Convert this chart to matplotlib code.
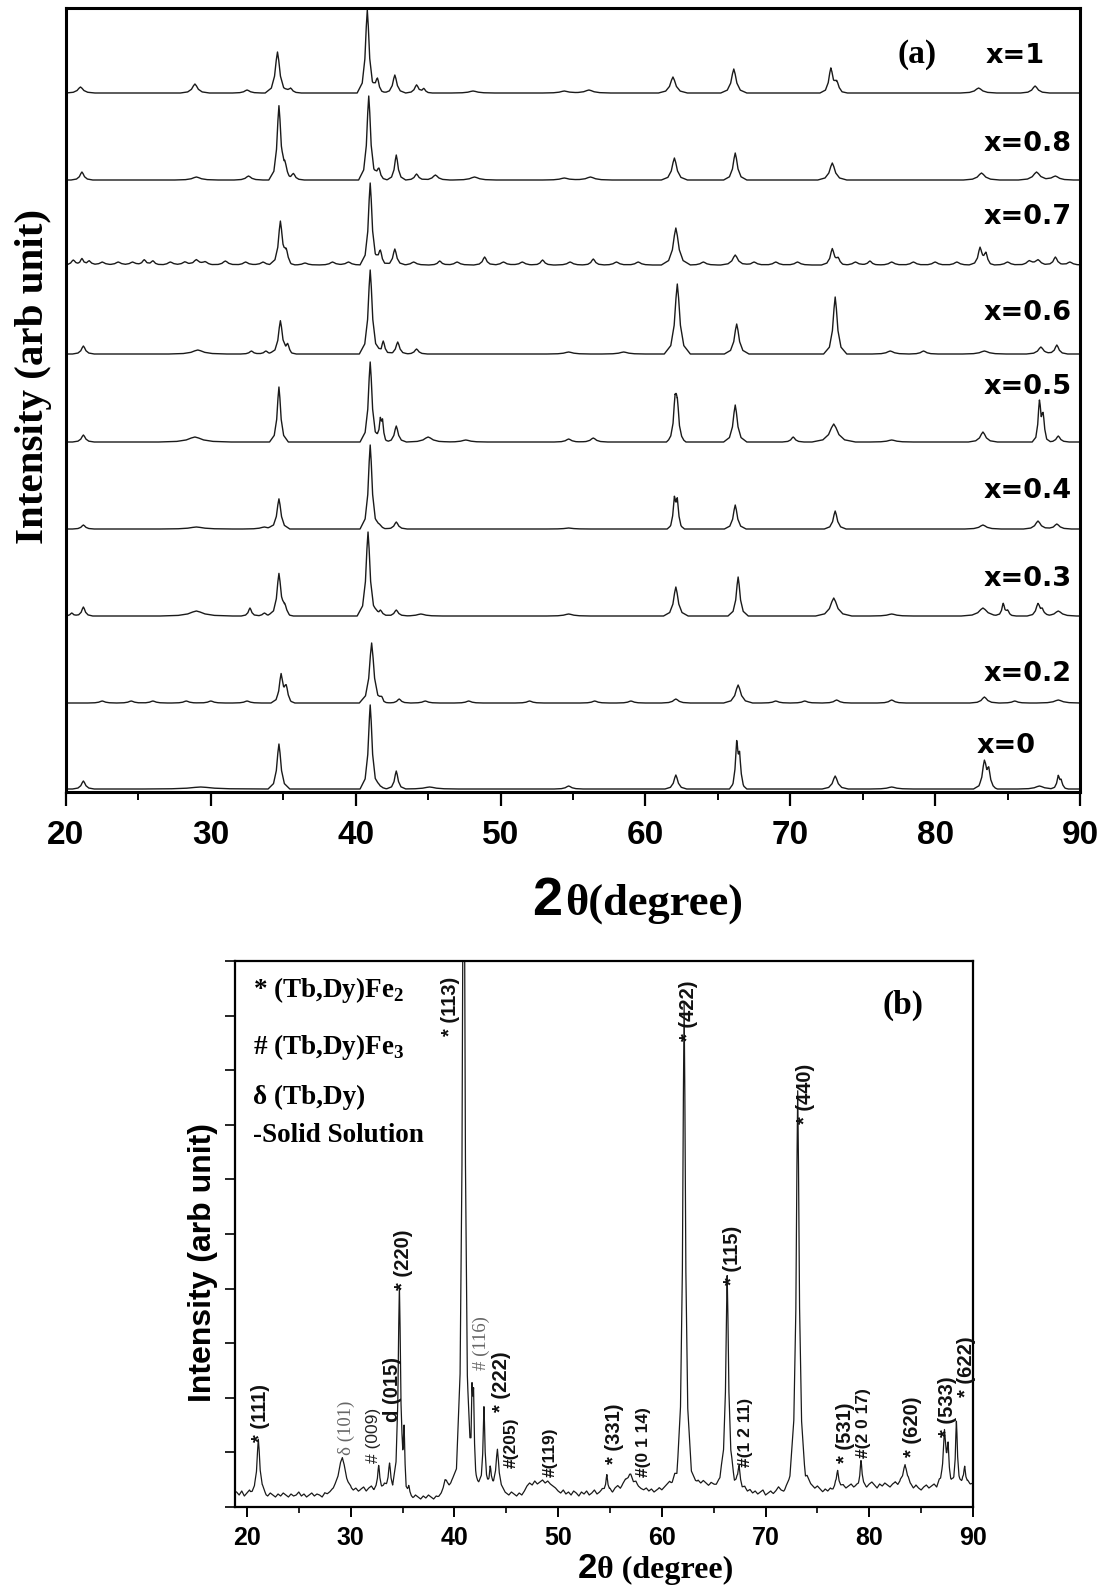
import numpy as np
import matplotlib
matplotlib.use("Agg")
import matplotlib.pyplot as plt

plt.rcParams['mathtext.fontset'] = 'custom'
plt.rcParams['mathtext.rm'] = 'Liberation Serif:bold'
plt.rcParams['mathtext.bf'] = 'Liberation Serif:bold'

# ---------------- data: panel (a) ----------------
# composition labels and vertical offsets of each pattern (axis units)
comp_labels = ["x=1", "x=0.8", "x=0.7", "x=0.6", "x=0.5", "x=0.4", "x=0.3", "x=0.2", "x=0"]
comp_offsets = [699, 612, 527, 438, 350, 263, 176, 89, 3]
# peaks: (2theta, height, half-width)
peaks_x1 = [(21.0, 6, .2), (28.9, 9, .2), (32.5, 3, .2), (34.6, 41, .17), (35.5, 5, .15),
            (40.8, 83, .14), (41.5, 15, .12), (42.7, 18, .15), (44.2, 8, .15), (44.7, 4, .12),
            (48.1, 2, .3), (54.4, 2, .3), (56.1, 3, .3), (61.9, 16, .2), (66.1, 24, .18),
            (72.8, 24, .15), (73.2, 10, .15), (83.0, 5, .25), (86.9, 7, .2)]
peaks_x08 = [(21.1, 8, .15), (29.0, 3, .3), (32.6, 4, .2), (34.7, 73, .14), (35.1, 12, .15),
             (35.7, 6, .15), (40.9, 84, .14), (41.6, 12, .12), (42.8, 25, .13), (44.2, 6, .15),
             (45.5, 5, .2), (48.2, 3, .3), (54.4, 2, .3), (56.2, 3, .3), (62.0, 22, .18),
             (66.2, 27, .16), (72.9, 17, .2), (83.2, 7, .25), (87.0, 8, .25), (88.3, 4, .25)]
peaks_x07 = [(20.5, 5, .15), (21.1, 6, .12), (21.6, 4, .15), (22.5, 3, .2), (23.6, 3, .2),
             (24.6, 3, .2), (25.4, 5, .15), (26.0, 4, .15), (27.2, 3, .2), (28.2, 3, .2),
             (29.0, 5, .2), (29.6, 3, .2), (31.0, 4, .2), (32.4, 3, .2), (33.6, 3, .2),
             (34.8, 43, .15), (35.2, 12, .12), (36.5, 2, .2), (38.4, 3, .2), (39.5, 3, .2),
             (41.0, 82, .14), (41.7, 15, .12), (42.7, 16, .14), (44.0, 3, .2), (45.8, 4, .15),
             (47.0, 3, .2), (48.9, 8, .15), (50.2, 3, .2), (51.5, 3, .2), (52.9, 5, .15),
             (54.8, 3, .2), (56.4, 6, .15), (58.0, 3, .2), (59.5, 3, .2), (62.1, 37, .2),
             (64.0, 3, .2), (66.2, 10, .2), (67.5, 3, .2), (69.0, 3, .2), (70.5, 3, .2),
             (72.9, 16, .15), (73.3, 6, .12), (74.5, 3, .2), (75.5, 4, .15), (77.0, 3, .2),
             (78.5, 3, .2), (80.0, 3, .2), (81.5, 3, .2), (83.1, 17, .15), (83.5, 11, .12),
             (85.0, 3, .2), (86.5, 4, .2), (87.1, 5, .2), (88.3, 8, .15), (89.3, 3, .2)]
peaks_x06 = [(21.2, 8, .15), (29.1, 4, .4), (32.8, 3, .15), (33.8, 3, .15), (34.8, 33, .15),
             (35.3, 8, .12), (41.0, 84, .15), (41.9, 13, .12), (42.9, 12, .14), (44.2, 5, .15),
             (54.7, 2, .3), (58.5, 2, .3), (62.2, 70, .18), (66.3, 30, .17), (73.1, 57, .16),
             (76.9, 3, .25), (79.2, 3, .2), (83.4, 3, .3), (87.3, 7, .2), (88.4, 9, .15)]
peaks_x05 = [(21.2, 7, .15), (28.9, 5, .5), (34.7, 55, .13), (41.0, 80, .14), (41.7, 20, .08),
             (41.85, 18, .08), (42.8, 16, .14), (45.0, 5, .3), (47.6, 2, .3), (54.7, 3, .2),
             (56.4, 4, .2), (62.05, 36, .12), (62.2, 30, .12), (66.2, 37, .16), (70.2, 5, .15),
             (73.0, 18, .3), (77.0, 2, .3), (83.3, 10, .2), (87.2, 39, .1), (87.45, 25, .1),
             (88.5, 6, .15)]
peaks_x04 = [(21.2, 4, .15), (29.0, 2, .5), (33.7, 2, .3), (34.7, 30, .15), (41.0, 84, .14),
             (41.7, 4, .12), (42.8, 7, .15), (54.7, 1, .3), (62.0, 27, .1), (62.2, 25, .1),
             (66.2, 24, .15), (73.1, 18, .15), (83.3, 4, .25), (87.1, 8, .2), (88.4, 5, .2)]
peaks_x03 = [(20.4, 3, .12), (21.2, 9, .13), (29.0, 5, .5), (32.7, 8, .12), (33.7, 3, .15),
             (34.7, 42, .15), (35.1, 8, .12), (40.85, 84, .15), (41.7, 6, .15), (42.8, 6, .15),
             (44.5, 2, .3), (54.7, 2, .3), (62.1, 29, .17), (66.4, 39, .14), (73.0, 18, .25),
             (77.0, 2, .3), (83.3, 8, .3), (84.7, 12, .1), (85.0, 5, .12), (87.1, 12, .15),
             (87.4, 5, .12), (88.5, 5, .25)]
peaks_x02 = [(22.5, 2, .2), (24.5, 2, .2), (26.0, 2, .2), (28.3, 2, .2), (30.0, 2, .2),
             (32.5, 2, .2), (34.85, 28, .14), (35.2, 15, .12), (41.1, 60, .17), (41.8, 4, .12),
             (43.0, 4, .15), (44.8, 2, .2), (47.8, 2, .2), (52.0, 2, .2), (56.5, 2, .2),
             (59.0, 2, .2), (62.1, 4, .2), (66.4, 18, .2), (69.0, 2, .2), (71.0, 2, .2),
             (73.2, 3, .2), (77.0, 3, .2), (83.4, 6, .2), (85.5, 2, .2), (88.5, 3, .3)]
peaks_x0 = [(21.2, 8, .15), (29.3, 2, .8), (34.7, 45, .15), (41.0, 84, .14), (41.7, 3, .15),
            (42.8, 18, .13), (45.1, 2, .4), (54.7, 3, .2), (62.1, 14, .15), (66.3, 42, .1),
            (66.5, 28, .1), (73.1, 13, .18), (77.0, 2, .3), (83.4, 27, .15), (83.7, 16, .12),
            (87.2, 3, .3), (88.5, 12, .1), (88.7, 7, .1)]
peaks_a = [peaks_x1, peaks_x08, peaks_x07, peaks_x06, peaks_x05,
           peaks_x04, peaks_x03, peaks_x02, peaks_x0]

# ---------------- data: panel (b) (detailed pattern) ----------------
b_base_start, b_base_step = 19.0, 0.25
b_baseline = [
    15, 12, 16, 11, 14, 17, 13, 15, 12, 14, 16, 13, 11, 14, 12, 10, 13, 11, 14, 12,
    10, 13, 11, 12, 15, 11, 13, 10, 12, 14, 11, 13, 12, 10, 14, 12, 13, 15, 16, 18,
    20, 18, 17, 15, 16, 14, 17, 15, 18, 20, 16, 19, 21, 17, 20, 22, 19, 23, 20, 21,
    19, 20, 22, 18, 16, 14, 12, 11, 9, 12, 10, 8, 11, 9, 12, 10, 8, 11, 10, 12,
    15, 19, 17, 20, 22, 24, 22, 20, 22, 20, 18, 21, 19, 22, 20, 18, 21, 19, 22, 20,
    21, 19, 18, 16, 14, 12, 15, 13, 11, 14, 12, 16, 21, 24, 22, 26, 23, 25, 27, 24,
    26, 23, 21, 19, 16, 14, 17, 13, 15, 12, 16, 14, 11, 15, 13, 16, 12, 14, 17, 13,
    15, 18, 16, 14, 17, 15, 19, 21, 18, 22, 25, 23, 26, 22, 24, 20, 18, 17, 19, 16,
    18, 15, 17, 19, 16, 18, 20, 22, 19, 24, 20, 22, 25, 23, 21, 24, 22, 20, 23, 21,
    24, 22, 20, 23, 21, 19, 22, 24, 21, 18, 20, 22, 19, 21, 18, 16, 19, 15, 17, 14,
    16, 13, 15, 17, 12, 14, 16, 13, 15, 18, 14, 12, 15, 17, 22, 20, 18, 21, 19, 17,
    22, 20, 18, 16, 19, 17, 15, 18, 16, 19, 17, 21, 18, 20, 22, 19, 21, 23, 20, 22,
    21, 24, 22, 20, 23, 25, 22, 19, 23, 21, 24, 22, 20, 23, 25, 21, 24, 22, 20, 23,
    21, 18, 22, 19, 17, 20, 22, 19, 21, 23, 20, 24, 22, 25, 23, 21, 24, 22, 25, 23,
    26, 22, 25, 23, 24]
peaks_b = [(21.1, 55, .15), (29.2, 31, .35), (32.7, 20, .1), (33.75, 23, .12),
           (34.7, 202, .13), (35.15, 52, .08), (35.6, 10, .1), (39.1, 8, .15),
           (40.9, 700, .14), (40.9, 40, .5), (41.7, 73, .08), (41.85, 70, .08),
           (42.85, 79, .1), (43.45, 19, .1), (44.15, 38, .15), (54.7, 18, .1),
           (56.9, 8, .3), (62.15, 445, .14), (62.15, 35, .5), (66.3, 195, .14),
           (66.3, 18, .5), (67.45, 20, .12), (73.1, 362, .15), (73.1, 35, .5),
           (76.95, 18, .12), (79.2, 23, .1), (83.45, 22, .2), (87.25, 50, .15),
           (87.6, 35, .1), (88.4, 62, .1), (89.2, 18, .1)]

# peak labels of panel (b): text, 2theta position, height of label foot, style
b_labels = [
    ("* (111)", 21.35, 65, 'b'), ("\u03b4 (101)", 29.55, 52, 'g'), ("# (009)", 32.25, 44, 'n'),
    ("d (015)", 34.08, 85, 'b'), ("* (220)", 35.14, 217, 'b'), ("* (113)", 39.58, 471, 'b'),
    ("# (116)", 42.57, 137, 'g'), ("* (222)", 44.59, 95, 'b'), ("#(205)", 45.46, 39, 's'),
    ("#(119)", 49.22, 30, 's'), ("* (331)", 55.39, 43, 'b'), ("#(0 1 14)", 58.19, 30, 's'),
    ("* (115)", 66.77, 222, 'b'), ("#(1 2 11)", 68.02, 40, 's'), ("* (440)", 73.81, 383, 'b'),
    ("* (422)", 62.53, 466, 'b'), ("* (531)", 77.67, 44, 'b'), ("#(2 0 17)", 79.40, 49, 's'),
    ("* (620)", 84.13, 50, 'b'), ("* (533)", 87.50, 70, 'b'), ("* (622)", 89.33, 110, 'b'),
]
legend_lines = [r"* (Tb,Dy)Fe$_2$", r"# (Tb,Dy)Fe$_3$", "\u03b4 (Tb,Dy)", "-Solid Solution"]

# ---------------- rendering helpers ----------------
SHAPE_U = np.array([-5, -2.5, -1.2, -0.5, 0, 0.5, 1.2, 2.5, 5])
SHAPE_V = np.array([0, 0.12, 0.41, 0.8, 1, 0.8, 0.41, 0.12, 0])


def profile(base_x, base_y, peaks):
    xs = list(base_x)
    for c, h, w in peaks:
        xs.extend(c + SHAPE_U * w)
    xs = np.unique(np.array(xs))
    ys = np.interp(xs, base_x, base_y)
    for c, h, w in peaks:
        ys = ys + h * np.interp((xs - c) / w, SHAPE_U, SHAPE_V)
    return xs, ys


W, H = 1104, 1588
fig = plt.figure(figsize=(W / 100, H / 100), dpi=100)
SANS = 'Liberation Sans'
SERIF = 'Liberation Serif'


def fx(px):
    return px / W


def fy(py):
    return 1 - py / H


# ---------------- panel (a) ----------------
axa = fig.add_axes([fx(66), fy(792), fx(1080) - fx(66), fy(8) - fy(792)])
for off, pk in zip(comp_offsets, peaks_a):
    xs, ys = profile([20, 90], [off, off], pk)
    axa.plot(xs, ys, color='#1a1a1a', lw=1.0)
axa.set_xlim(20, 90)
axa.set_ylim(0, 784)
axa.set_xticks(np.arange(20, 91, 10))
axa.set_xticks(np.arange(25, 90, 10), minor=True)
axa.set_yticks([])
axa.tick_params(axis='x', which='major', direction='out', length=10, width=1.6, pad=10)
axa.tick_params(axis='x', which='minor', direction='out', length=6, width=1.4)
for lab in axa.get_xticklabels():
    lab.set_fontfamily(SANS)
    lab.set_fontweight('bold')
    lab.set_fontsize(24)
for sp in axa.spines.values():
    sp.set_linewidth(2.2)

label_pos = [(1045, 56), (1072, 144), (1072, 217), (1072, 313), (1072, 387),
             (1072, 491), (1072, 579), (1072, 674), (1036, 746)]
for lab, (px, py) in zip(comp_labels, label_pos):
    fig.text(fx(px), fy(py), lab, ha='right', va='center', fontsize=19.5,
             fontweight='bold', family='DejaVu Sans')
fig.text(fx(917), fy(55), "(a)", ha='center', va='center', fontsize=24,
         fontweight='bold', family=SERIF)
fig.text(fx(532), fy(915), "2", ha='left', va='baseline', fontsize=39,
         fontweight='bold', family=SANS)
fig.text(fx(565), fy(915), "\u03b8(degree)", ha='left', va='baseline', fontsize=32,
         fontweight='bold', family=SERIF)
fig.text(fx(34), fy(376), "Intensity (arb unit)", rotation=90, ha='center', va='center',
         fontsize=29.5, fontweight='bold', family=SERIF)

# ---------------- panel (b) ----------------
axb = fig.add_axes([fx(235), fy(1507), fx(973) - fx(235), fy(961) - fy(1507)])
bx = b_base_start + b_base_step * np.arange(len(b_baseline))
xs, ys = profile(bx, np.array(b_baseline, float), peaks_b)
axb.plot(xs, ys, color='#1a1a1a', lw=0.9)
axb.set_xlim(18.85, 90)
axb.set_ylim(0, 546)
axb.set_xticks(np.arange(20, 91, 10))
axb.set_xticks(np.arange(25, 90, 10), minor=True)
axb.set_yticks(np.linspace(0, 546, 11))
axb.set_yticklabels([])
axb.tick_params(axis='x', which='major', direction='out', length=7, width=1.4, pad=7)
axb.tick_params(axis='x', which='minor', direction='out', length=4, width=1.2)
axb.tick_params(axis='y', which='major', direction='out', length=7, width=1.2)
for lab in axb.get_xticklabels():
    lab.set_fontfamily(SANS)
    lab.set_fontweight('bold')
    lab.set_fontsize(18)
for sp in axb.spines.values():
    sp.set_linewidth(1.6)

styles = {
    'b': dict(family=SANS, fontweight='bold', fontsize=14.5, color='#111111'),
    's': dict(family=SANS, fontweight='bold', fontsize=12.5, color='#111111'),
    'n': dict(family=SANS, fontweight='normal', fontsize=12.5, color='#222222'),
    'g': dict(family=SERIF, fontweight='normal', fontsize=13.5, color='#666666'),
}
for txt, x, y, st in b_labels:
    axb.text(x, y, txt, rotation=90, ha='center', va='bottom', clip_on=False, **styles[st])

leg_y = [990, 1047, 1097, 1135]
for txt, py in zip(legend_lines, leg_y):
    fig.text(fx(253), fy(py), txt, ha='left', va='center', fontsize=19.5,
             fontweight='bold', family=SERIF)
fig.text(fx(903), fy(1005), "(b)", ha='center', va='center', fontsize=24,
         fontweight='bold', family=SERIF)
fig.text(fx(578), fy(1578), "2", ha='left', va='baseline', fontsize=25,
         fontweight='bold', family=SANS)
fig.text(fx(597), fy(1578), "\u03b8 (degree)", ha='left', va='baseline', fontsize=23,
         fontweight='bold', family=SERIF)
fig.text(fx(203), fy(1262), "Intensity (arb unit)", rotation=90, ha='center', va='center',
         fontsize=23, fontweight='bold', family=SANS)

fig.savefig("out.png", dpi=100)
